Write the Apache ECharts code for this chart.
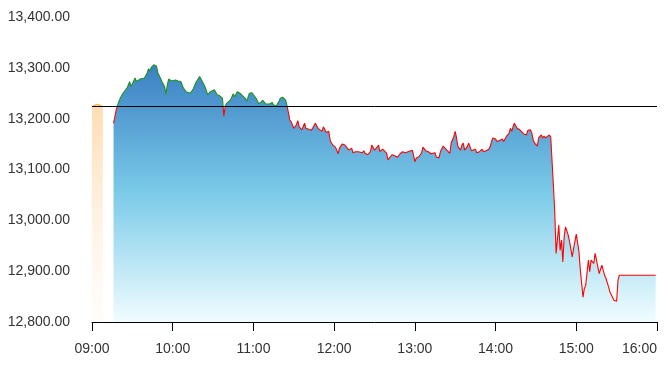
<!DOCTYPE html>
<html>
<head>
<meta charset="utf-8">
<script src="https://cdn.jsdelivr.net/npm/echarts@6/dist/echarts.min.js"></script>
<style>
  html, body { margin: 0; padding: 0; background: #fff; }
  #chart { width: 670px; height: 366px; }
</style>
</head>
<body>
<div id="chart"></div>
<script>
// ---- data ----
const prevClose = 13225;
const times = [
 '09:16','09:18','09:20','09:21','09:22','09:23','09:24','09:26','09:28','09:29',
 '09:32','09:33','09:36','09:37','09:39','09:41','09:42','09:43','09:44','09:46',
 '09:48','09:49','09:52','09:54','09:55','09:56','09:57','09:59','10:02','10:04',
 '10:06','10:08','10:10','10:13','10:15','10:17','10:20','10:22','10:24','10:26',
 '10:28','10:31','10:33','10:35','10:37','10:38','10:39','10:40','10:41','10:43',
 '10:45','10:46','10:48','10:50','10:52','10:54','10:55','10:57','10:59','11:00',
 '11:02','11:04','11:05','11:07','11:09','11:10','11:12','11:14','11:15','11:17',
 '11:18','11:19','11:20','11:21','11:22','11:24','11:25','11:27','11:28','11:30',
 '11:32','11:33','11:34','11:36','11:38','11:39','11:41','11:43','11:44','11:46',
 '11:48','11:49','11:51','11:52','11:53','11:54','11:56','11:57','11:58','11:59',
 '12:01','12:03','12:04','12:06','12:08','12:09','12:11','12:13','12:14','12:16',
 '12:18','12:19','12:21','12:22','12:23','12:25','12:27','12:28','12:30','12:32',
 '12:33','12:34','12:36','12:37','12:39','12:40','12:41','12:43','12:45','12:47',
 '12:49','12:51','12:53','12:55','12:56','12:58','12:59','13:00','13:01','13:03',
 '13:05','13:06','13:08','13:10','13:12','13:13','13:15','13:16','13:18','13:19',
 '13:21','13:22','13:24','13:26','13:27','13:29','13:30','13:31','13:32','13:34',
 '13:35','13:36','13:37','13:39','13:40','13:42','13:43','13:45','13:46','13:48',
 '13:50','13:51','13:53','13:55','13:56','13:57','13:58','14:00','14:01','14:02',
 '14:03','14:05','14:06','14:07','14:08','14:10','14:11','14:12','14:13','14:14',
 '14:16','14:18','14:19','14:21','14:23','14:24','14:26','14:27','14:28','14:29',
 '14:31','14:32','14:34','14:35','14:36','14:37','14:38','14:40','14:41','14:42',
 '14:43','14:44','14:45','14:47','14:48','14:49','14:50','14:51','14:52','14:54',
 '14:55','14:57','14:58','15:00','15:02','15:03','15:05','15:06','15:07','15:09',
 '15:10','15:11','15:13','15:14','15:15','15:17','15:19','15:21','15:22','15:24',
 '15:25','15:26','15:28','15:30','15:31','15:32','15:59'
];
const prices = [
 13191,13217,13234,13240,13242,13250,13253,13260,13273,13263,
 13280,13273,13278,13276,13280,13290,13298,13294,13301,13306,
 13303,13290,13273,13263,13248,13267,13278,13274,13276,13274,
 13273,13260,13253,13250,13257,13270,13283,13273,13263,13247,
 13253,13257,13247,13245,13240,13205,13224,13230,13227,13237,
 13249,13243,13253,13250,13245,13240,13234,13250,13251,13247,
 13240,13229,13232,13236,13229,13232,13229,13232,13227,13225,
 13222,13234,13240,13237,13242,13236,13225,13198,13194,13181,
 13188,13196,13184,13178,13191,13181,13179,13177,13181,13191,
 13181,13179,13175,13184,13179,13173,13175,13158,13152,13148,
 13144,13131,13142,13150,13148,13150,13138,13142,13133,13135,
 13135,13138,13133,13137,13132,13129,13135,13148,13138,13144,
 13148,13135,13140,13138,13132,13119,13120,13129,13127,13124,
 13131,13135,13133,13135,13133,13138,13129,13115,13122,13125,
 13133,13144,13137,13135,13131,13129,13133,13124,13123,13135,
 13146,13144,13137,13132,13152,13165,13175,13162,13145,13138,
 13148,13152,13138,13145,13152,13137,13135,13140,13133,13135,
 13140,13135,13137,13140,13145,13155,13162,13160,13155,13158,
 13157,13160,13155,13152,13165,13171,13181,13175,13184,13191,
 13181,13178,13175,13170,13168,13177,13178,13171,13158,13152,
 13146,13162,13168,13162,13166,13162,13165,13168,13164,13165,
 13068,13015,12935,12991,12941,12961,12918,12968,12987,12971,
 12958,12928,12945,12973,12938,12902,12849,12866,12872,12922,
 12899,12922,12915,12935,12922,12895,12912,12892,12886,12869,
 12859,12862,12843,12841,12882,12892,12892
];
// pre-open auction marker
const auctionTimes = ['09:01','09:04','09:07'];
const auctionPrices = [13225, 13228, 13225];
const auctionBarTime = '09:04';
const auctionBarValue = 13225;
const xTickLabels = ['09:00','10:00','11:00','12:00','13:00','14:00','15:00','16:00'];

// ---- helpers ----
const toMin = s => { const p = s.split(':'); return (+p[0]) * 60 + (+p[1]); };
const toHHMM = m => String(Math.floor(m / 60)).padStart(2, '0') + ':' + String(Math.round(m % 60)).padStart(2, '0');
const fmtNum = v => v.toFixed(2).replace(/\B(?=(\d{3})+(?!\d))/g, ',');

const lineData = times.map((t, i) => [toMin(t), prices[i]]);
const auctionLine = auctionTimes.map((t, i) => [toMin(t), auctionPrices[i]]);

const chart = echarts.init(document.getElementById('chart'), null, { renderer: 'canvas' });
const font = 'Liberation Sans, Arial, sans-serif';
const H = 366;

const baseOption = {
  animation: false,
  backgroundColor: '#fff',
  grid: { left: 92, right: 13, top: 17, bottom: 44, containLabel: false },
  xAxis: {
    type: 'value',
    min: toMin(xTickLabels[0]),
    max: toMin(xTickLabels[xTickLabels.length - 1]),
    interval: 60,
    splitLine: { show: false },
    axisLine: { show: true, lineStyle: { color: '#000', width: 1 } },
    axisTick: { show: true, length: 9, lineStyle: { color: '#000', width: 1 } },
    axisLabel: {
      margin: 20, fontSize: 14, fontFamily: font, color: '#333',
      alignMaxLabel: 'right',
      formatter: v => toHHMM(v)
    }
  },
  yAxis: {
    type: 'value',
    min: 12800, max: 13400, interval: 100,
    splitLine: { show: false },
    axisLine: { show: false },
    axisTick: { show: false },
    axisLabel: { margin: 22, fontSize: 14, fontFamily: font, color: '#333', formatter: v => fmtNum(v) }
  },
  series: [
    {
      id: 'price',
      type: 'line',
      data: lineData,
      showSymbol: false,
      symbol: 'none',
      lineStyle: { width: 1.1, color: '#ff0000' },
      areaStyle: {
        opacity: 1,
        color: new echarts.graphic.LinearGradient(0, 0, 0, 1, [
          { offset: 0, color: '#3a80c3' },
          { offset: 0.5, color: '#7ccbe9' },
          { offset: 1, color: '#f0fdff' }
        ])
      },
      markLine: {
        silent: true, symbol: 'none', animation: false,
        label: { show: false },
        lineStyle: { color: '#000', width: 1, type: 'solid' },
        data: [{ yAxis: prevClose }]
      },
      z: 3
    },
    {
      type: 'bar',
      data: [[toMin(auctionBarTime), auctionBarValue]],
      barWidth: 11,
      clip: true,
      itemStyle: {
        color: new echarts.graphic.LinearGradient(0, 0, 0, 1, [
          { offset: 0, color: 'rgba(255,212,160,0.8)' },
          { offset: 1, color: 'rgba(255,240,225,0.15)' }
        ])
      },
      z: 1
    },
    {
      type: 'line',
      data: auctionLine,
      showSymbol: false,
      symbol: 'none',
      lineStyle: { width: 1.5, color: '#ffb347' },
      z: 4
    }
  ]
};
chart.setOption(baseOption);

// split line colour at the previous close: green above, red below
const yP = chart.convertToPixel({ gridIndex: 0 }, [toMin(xTickLabels[0]), prevClose])[1];
const f = Math.min(1, Math.max(0, yP / H));
chart.setOption({
  series: [{
    id: 'price',
    lineStyle: {
      color: new echarts.graphic.LinearGradient(0, 0, 0, H, [
        { offset: 0, color: '#1f8f1f' },
        { offset: f, color: '#1f8f1f' },
        { offset: f, color: '#ff0000' },
        { offset: 1, color: '#ff0000' }
      ], true)
    }
  }]
});
</script>
</body>
</html>
